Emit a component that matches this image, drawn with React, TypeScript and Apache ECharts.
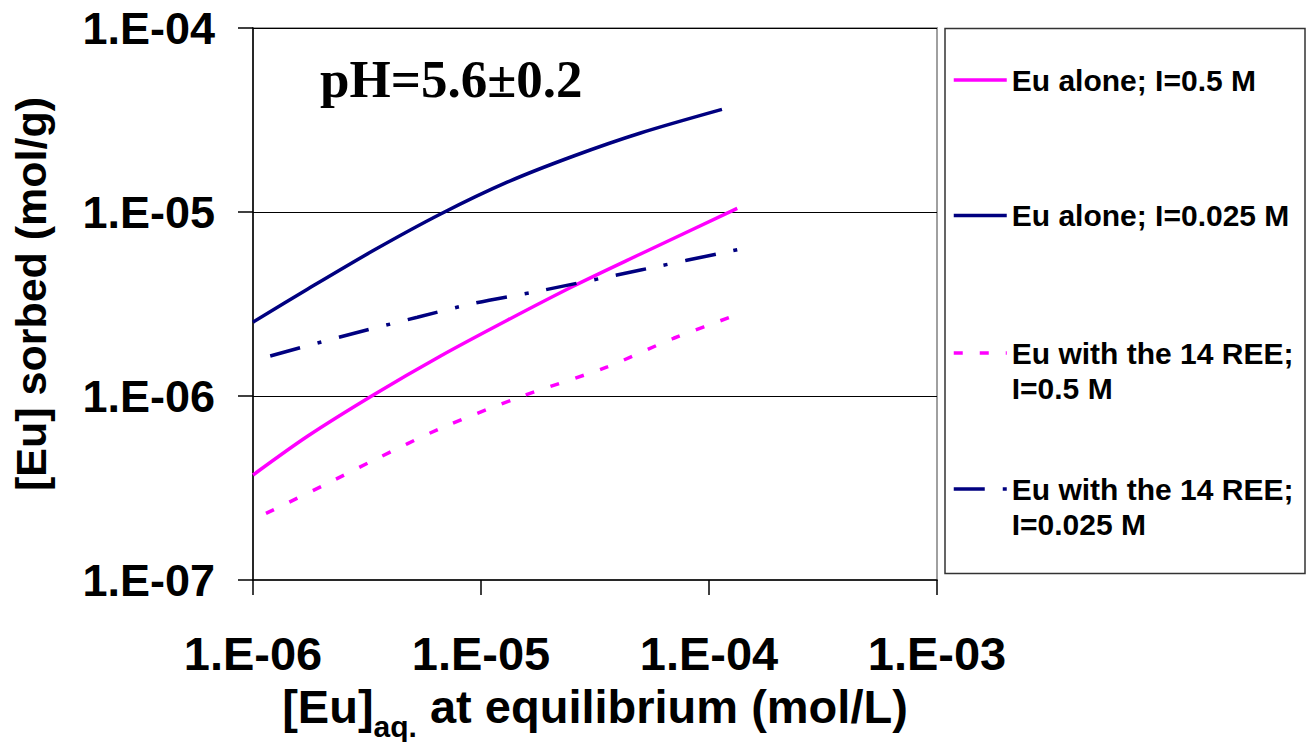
import React, { useEffect, useRef } from "react";
import * as echarts from "echarts";

// ---- data ----
const xTickLabels = ["1.E-06", "1.E-05", "1.E-04", "1.E-03"];
const yTickLabels = ["1.E-07", "1.E-06", "1.E-05", "1.E-04"];

const seriesNames = [
  "Eu alone; I=0.5 M",
  "Eu alone; I=0.025 M",
  "Eu with the 14 REE;\nI=0.5 M",
  "Eu with the 14 REE;\nI=0.025 M",
];

// Eu alone; I=0.5 M
const alone05X = [1.0e-6, 1.74e-6, 3.4e-6, 6.65e-6, 1.31e-5, 2.55e-5, 5.01e-5, 1.33e-4];
const alone05Y = [3.72e-7, 6.06e-7, 1.019e-6, 1.65e-6, 2.588e-6, 3.961e-6, 5.91e-6, 1.047e-5];

// Eu alone; I=0.025 M
const alone0025X = [1.0e-6, 1.74e-6, 3.4e-6, 6.65e-6, 1.31e-5, 2.55e-5, 5.01e-5, 1.14e-4];
const alone0025Y = [2.52e-6, 3.815e-6, 6.21e-6, 9.75e-6, 1.456e-5, 2.015e-5, 2.687e-5, 3.61e-5];

// Eu with the 14 REE; I=0.5 M
const ree05X = [1.14e-6, 2.05e-6, 3.4e-6, 6.65e-6, 1.49e-5, 3.58e-5, 7.0e-5, 1.42e-4];
const ree05Y = [2.3e-7, 3.28e-7, 4.49e-7, 6.67e-7, 9.9e-7, 1.44e-6, 2.06e-6, 2.85e-6];

// Eu with the 14 REE; I=0.025 M
const ree0025X = [1.19e-6, 2.43e-6, 5.26e-6, 9.31e-6, 1.82e-5, 5.01e-5, 1.47e-4];
const ree0025Y = [1.65e-6, 2.1e-6, 2.68e-6, 3.19e-6, 3.73e-6, 4.84e-6, 6.4e-6];

const zip = (xs: number[], ys: number[]) => xs.map((x, i) => [x, ys[i]]);

const SANS = "'Liberation Sans', Arial, Helvetica, sans-serif";
const SERIF = "'Liberation Serif', 'Times New Roman', serif";
const MAGENTA = "#FF00FF";
const NAVY = "#000080";
const NONE = "rgba(0,0,0,0)";

export default function App() {
  const ref = useRef<HTMLDivElement>(null);

  useEffect(() => {
    document.body.style.margin = "0";
    if (!ref.current) return;
    const chart = echarts.init(ref.current, undefined, { renderer: "svg" });

    const legendBase = (name: string, top: number) => ({
      data: [name],
      left: 952,
      top,
      orient: "vertical",
      padding: 0,
      itemWidth: 53,
      itemHeight: 35,
      selectedMode: false,
      z: 10,
      itemStyle: { opacity: 0 },
      lineStyle: { width: 3.5 },
      // two-line names get a blank first line so the sample sits beside the first text line
      formatter: (n: string) => (n.indexOf("\n") >= 0 ? " \n" + n : n),
      textStyle: {
        fontFamily: SANS,
        fontWeight: "bold",
        fontSize: 30,
        color: "#000",
        lineHeight: 35,
      },
    });

    const option: any = {
      animation: false,
      backgroundColor: "#fff",
      title: {
        text: "pH=5.6±0.2",
        left: 315,
        top: 47,
        textStyle: {
          fontFamily: SERIF,
          fontWeight: "bold",
          fontSize: 53,
          lineHeight: 53,
          color: "#000",
        },
      },
      grid: {
        left: 253,
        top: 28,
        right: 375,
        bottom: 162,
        outerBoundsMode: "none",
        containLabel: false,
        show: true,
        borderColor: "#a0a0a0",
        borderWidth: 2,
      },
      legend: [
        legendBase(seriesNames[0], 62.5),
        legendBase(seriesNames[1], 198),
        legendBase(seriesNames[2], 300.5),
        legendBase(seriesNames[3], 436.5),
      ],
      graphic: [
        {
          type: "rect",
          z: 1,
          shape: { x: 945, y: 28.5, width: 360, height: 545 },
          style: { fill: "#fff", stroke: "#333", lineWidth: 1.5 },
        },
      ],
      xAxis: {
        type: "log",
        logBase: 10,
        min: 1e-6,
        max: 1e-3,
        name: "{a|[Eu]}{b|aq.}{a| at equilibrium (mol/L)}",
        nameLocation: "middle",
        nameGap: 103,
        nameTextStyle: {
          rich: {
            a: {
              fontFamily: SANS,
              fontWeight: "bold",
              fontSize: 47,
              lineHeight: 58,
              verticalAlign: "top",
              color: "#000",
            },
            b: {
              fontFamily: SANS,
              fontWeight: "bold",
              fontSize: 30,
              lineHeight: 34,
              verticalAlign: "bottom",
              color: "#000",
            },
          },
        },
        axisLine: { lineStyle: { color: "#000", width: 1.5 } },
        axisTick: { inside: false, length: 15, lineStyle: { color: "#000", width: 1.5 } },
        minorTick: { show: false },
        splitLine: { show: false },
        axisLabel: {
          margin: 50,
          fontFamily: SANS,
          fontWeight: "bold",
          fontSize: 47,
          color: "#000",
          formatter: (v: number) => xTickLabels[Math.round(Math.log10(v)) + 6],
        },
      },
      yAxis: {
        type: "log",
        logBase: 10,
        min: 1e-7,
        max: 1e-4,
        name: "[Eu] sorbed (mol/g)",
        nameLocation: "middle",
        nameRotate: 90,
        nameGap: 201,
        nameTextStyle: {
          fontFamily: SANS,
          fontWeight: "bold",
          fontSize: 43,
          color: "#000",
          padding: [0, 0, 0, 20],
        },
        axisLine: { show: true, lineStyle: { color: "#000", width: 1.5 } },
        axisTick: { show: true, inside: false, length: 15, lineStyle: { color: "#000", width: 1.5 } },
        splitLine: {
          show: true,
          showMinLine: false,
          showMaxLine: false,
          lineStyle: { color: "#000", width: 1 },
        },
        axisLabel: {
          margin: 38,
          fontFamily: SANS,
          fontWeight: "bold",
          fontSize: 45,
          color: "#000",
          formatter: (v: number) => yTickLabels[Math.round(Math.log10(v)) + 7],
        },
      },
      series: [
        {
          name: seriesNames[0],
          type: "line",
          data: zip(alone05X, alone05Y),
          symbol: "none",
          smooth: 0.3,
          lineStyle: { color: MAGENTA, width: 3.5 },
          itemStyle: { color: NONE },
          z: 5,
        },
        {
          name: seriesNames[1],
          type: "line",
          data: zip(alone0025X, alone0025Y),
          symbol: "none",
          smooth: 0.3,
          lineStyle: { color: NAVY, width: 3.5 },
          itemStyle: { color: NONE },
          z: 5,
        },
        {
          name: seriesNames[2],
          type: "line",
          data: zip(ree05X, ree05Y),
          symbol: "none",
          smooth: 0.3,
          lineStyle: { color: MAGENTA, width: 3.5, type: [9, 17] },
          itemStyle: { color: NONE },
          z: 5,
        },
        {
          name: seriesNames[3],
          type: "line",
          data: zip(ree0025X, ree0025Y),
          symbol: "none",
          smooth: 0.3,
          lineStyle: { color: NAVY, width: 3.5, type: [31, 18, 4, 18] },
          itemStyle: { color: NONE },
          z: 5,
        },
      ],
    };

    chart.setOption(option);
    return () => chart.dispose();
  }, []);

  return <div ref={ref} style={{ width: 1312, height: 742 }} />;
}
